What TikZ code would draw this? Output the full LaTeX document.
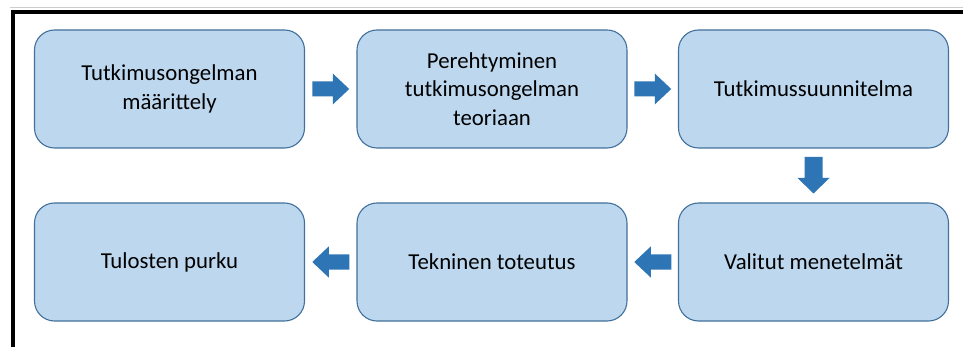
\documentclass[tikz,border=0pt]{standalone}
\usepackage{fontspec}
\setmainfont{Carlito}
\usetikzlibrary{calc}
\definecolor{boxfill}{HTML}{BDD7EE}
\definecolor{boxline}{HTML}{41719C}
\definecolor{arrowblue}{HTML}{2E75B6}
\begin{document}
\begin{tikzpicture}[x=1pt,y=-1pt,
  stepbox/.style={draw=boxline, fill=boxfill, line width=1.1pt, rounded corners=20pt,
    minimum width=270pt, minimum height=118pt, align=center,
    font=\fontsize{22.8}{28.3}\selectfont, text=black},
  blockarrow/.style={fill=arrowblue, draw=none}]
\useasboundingbox (0,0) rectangle (963,347);
\fill[white] (0,0) rectangle (963,347);
% frame
\draw[gray!40, line width=1pt] (10,7.5) -- (963,7.5);
\draw[black, line width=4pt] (12.5,12.5) -- (963,12.5);
\draw[black, line width=4pt] (12.5,10.5) -- (12.5,347);
% boxes
\node[stepbox] (b1) at (169.5,89) {Tutkimusongelman\\määrittely};
\node[stepbox] (b2) at (492,89) {Perehtyminen\\tutkimusongelman\\teoriaan};
\node[stepbox] (b3) at (813.5,89) {Tutkimussuunnitelma};
\node[stepbox] (b4) at (813.5,262) {Valitut menetelmät};
\node[stepbox] (b5) at (492,262) {Tekninen toteutus};
\node[stepbox] (b6) at (169.5,262) {Tulosten purku};
% arrow midpoints
\coordinate (m1) at ($(b1.east)!0.5!(b2.west)$);
\coordinate (m2) at ($(b2.east)!0.5!(b3.west)$);
\coordinate (m3) at ($(b3.south)!0.5!(b4.north)$);
\coordinate (m4) at ($(b4.west)!0.5!(b5.east)$);
\coordinate (m5) at ($(b5.west)!0.5!(b6.east)$);
% right arrows
\foreach \m in {m1,m2}{
  \fill[blockarrow] ($(\m)+(-18.5,-7.5)$) -- ($(\m)+(2,-7.5)$) -- ($(\m)+(2,-15.5)$)
    -- ($(\m)+(18.5,0)$) -- ($(\m)+(2,15.5)$) -- ($(\m)+(2,7.5)$) -- ($(\m)+(-18.5,7.5)$) -- cycle;
}
% left arrows
\foreach \m in {m4,m5}{
  \fill[blockarrow] ($(\m)+(18.5,-7.5)$) -- ($(\m)+(-2,-7.5)$) -- ($(\m)+(-2,-15.5)$)
    -- ($(\m)+(-18.5,0)$) -- ($(\m)+(-2,15.5)$) -- ($(\m)+(-2,7.5)$) -- ($(\m)+(18.5,7.5)$) -- cycle;
}
% down arrow
\fill[blockarrow] ($(m3)+(-9,-18.5)$) -- ($(m3)+(-9,2.5)$) -- ($(m3)+(-16,2.5)$)
  -- ($(m3)+(0,18)$) -- ($(m3)+(16,2.5)$) -- ($(m3)+(9,2.5)$) -- ($(m3)+(9,-18.5)$) -- cycle;
\end{tikzpicture}
\end{document}
